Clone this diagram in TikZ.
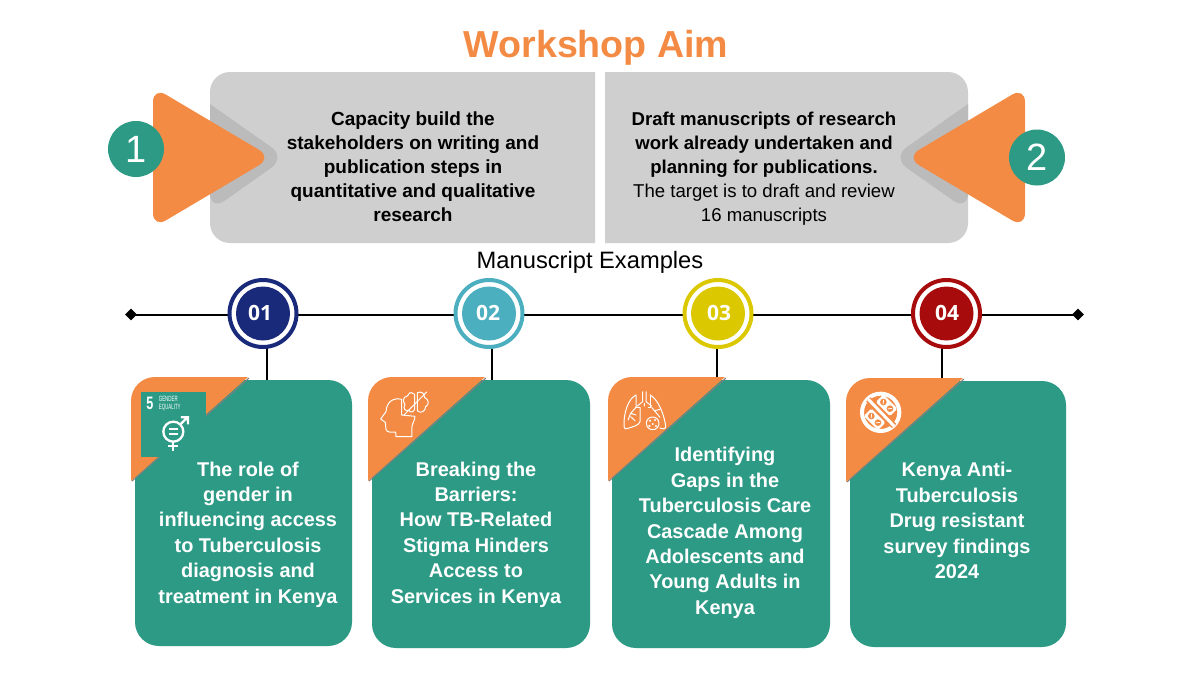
\documentclass[tikz,border=0pt]{standalone}
\usepackage{fontspec}
\setmainfont{Liberation Sans}
\newfontfamily\ringfont{Open Sans}
\usetikzlibrary{shapes.geometric}
\definecolor{orng}{HTML}{F38B45}
\definecolor{teal2}{HTML}{2C9A85}
\definecolor{boxg}{HTML}{CFCFCF}
\definecolor{shadg}{HTML}{BBBBBB}
\definecolor{edgeg}{HTML}{7F7F7F}
\definecolor{mblue}{HTML}{1A2A7A}
\definecolor{mcyan}{HTML}{4BAFC0}
\definecolor{myel}{HTML}{DCC800}
\definecolor{mred}{HTML}{A80B0B}
\tikzset{
  boxtext/.style={align=center,text=black,font=\fontsize{19}{24}\selectfont},
  cardtext/.style={align=center,text=white,font=\bfseries\fontsize{19.9}{25.4}\selectfont},
  card/.style={rectangle,rounded corners=24pt,fill=teal2,draw=none,inner sep=0pt},
  numdisc/.style={circle,fill=teal2,minimum size=56pt,inner sep=0pt,text=white,font=\fontsize{38}{38}\selectfont},
  ringout/.style={circle,draw=#1,line width=4pt,fill=white,minimum size=67pt,inner sep=0pt},
  ringin/.style={circle,fill=#1,minimum size=54pt,inner sep=0pt},
  ringlabel/.style={text=white,inner sep=0pt,font=\ringfont\bfseries\fontsize{21}{21}\selectfont},
  tline/.style={line width=2pt,draw=black},
  endmark/.style={diamond,fill=black,minimum size=12pt,inner sep=0pt},
  iconline/.style={draw=white,line width=1pt,line join=round,line cap=round},
  zoomed/.style={x=0.3333pt,y=-0.3333pt}
}
\begin{document}
\begin{tikzpicture}[x=1pt,y=-1pt]
\useasboundingbox (0,0) rectangle (1200,675);
\fill[white] (0,0) rectangle (1200,675);
\node[font=\bfseries\fontsize{37.6}{38}\selectfont,text=orng] (title) at (596,48) {Workshop Aim};
% gray boxes
\fill[boxg] (595,72) -- (595,243) [rounded corners=20pt] -- (210,243) -- (210,72) [sharp corners] -- cycle;
\fill[boxg] (605,72) -- (605,243) [rounded corners=20pt] -- (968,243) -- (968,72) [sharp corners] -- cycle;
% inner shadows
\fill[shadg] (210,104) [rounded corners=18pt] -- (286,157.5) -- (210,211) [sharp corners] -- cycle;
\fill[shadg] (968,104) [rounded corners=18pt] -- (892,157.5) -- (968,211) [sharp corners] -- cycle;
% arrows
\fill[orng,rounded corners=15pt] (153,157.5) -- (153,87) -- (272,157.5) -- (153,228) -- cycle;
\fill[orng,rounded corners=15pt] (1025,157.5) -- (1025,87) -- (906,157.5) -- (1025,228) -- cycle;
\node[numdisc] (n1) at (136,149) {1};
\node[numdisc] (n2) at (1037,157.5) {2};
\node[boxtext,font=\bfseries\fontsize{19}{24}\selectfont] (t1) at (413,167) {Capacity build the\\stakeholders on writing and\\publication steps in\\quantitative and qualitative\\research};
\node[boxtext,font=\fontsize{18.6}{24}\selectfont] (t2) at (764,169) {\textbf{Draft manuscripts of research}\\\textbf{work already undertaken and}\\\textbf{planning for publications.}\\The target is to draft and review\\16 manuscripts};
\node[font=\fontsize{23.7}{24}\selectfont] (me) at (590,262.5) {Manuscript Examples};
% timeline
\node[endmark] (dl) at (131,314.5) {};
\node[endmark] (dr) at (1078,314.5) {};
\draw[tline] (dl.center) -- (dr.center);
% cards
\node[card,minimum width=217pt,minimum height=266pt] (c1) at (243.5,513) {};
\node[card,minimum width=218pt,minimum height=268pt] (c2) at (481,514) {};
\node[card,minimum width=218pt,minimum height=268pt] (c3) at (721,514) {};
\node[card,minimum width=216pt,minimum height=266pt] (c4) at (958,514) {};
% connectors
\foreach \i/\x in {1/267,2/492,3/717,4/942}{
  \coordinate (up\i) at (\x,346);
  \coordinate (dn\i) at (\x,380);
  \draw[tline] (up\i) -- (dn\i);
}
% milestones
\foreach \i/\x/\lx/\col in {1/263/260/mblue,2/489/488/mcyan,3/718/719/myel,4/946.5/947/mred}{
  \node[ringout=\col] (ro\i) at (\x,313.5) {};
  \node[ringin=\col] (m\i) at (\x,313.5) {};
  \node[ringlabel] (lb\i) at (\lx,313) {0\i};
}
% orange corners
\foreach \x/\y in {131/377,368/377,608/377,846/378}{
  \draw[edgeg,line width=1pt] (\x+1,\y+104) -- (\x+118,\y+1);
  \fill[orng] (\x,\y+104) [rounded corners=24pt] -- (\x,\y) [sharp corners] -- (\x+117,\y) -- cycle;
}
% SDG badge
\fill[teal2] (141,392) rectangle (206,457);
\begin{scope}[shift={(120,370)},zoomed]
  \node[text=white,inner sep=0pt,font=\bfseries\fontsize{18}{18}\selectfont] (sdgn) at (90,100) {\scalebox{.7}[1]{5}};
  \node[text=white,align=left,anchor=west,inner sep=0pt,font=\fontsize{7.6}{8.4}\selectfont] (sdgt) at (116,101) {\scalebox{.58}[1]{GENDER}\\\scalebox{.58}[1]{EQUALITY}};
  \draw[white,line width=2.3pt] (160,185) circle (30);
  \draw[white,line width=2.3pt] (160,215) -- (160,243) (145,229) -- (175,229);
  \draw[white,line width=2.3pt] (180,164) -- (204,141) (183,142) -- (204,142) -- (204,163);
  \draw[white,line width=1.8pt] (146,178) -- (174,178) (146,191) -- (174,191);
\end{scope}
% head with crossed brain
\begin{scope}[shift={(360,370)},zoomed]
  \draw[iconline] (125,135) -- (125,88) .. controls (100,82) and (80,95) .. (78,125) -- (62,147) -- (76,157) -- (78,178) .. controls (80,188) and (95,187) .. (107,186) -- (108,200) -- (156,200) -- (156,170) .. controls (157,160) and (165,150) .. (165,139) -- (125,135);
  \draw[iconline] (162,72) .. controls (150,62) and (145,72) .. (142,78) .. controls (128,80) and (128,95) .. (135,103) .. controls (128,115) and (135,125) .. (147,122) .. controls (155,130) and (162,125) .. (164,118) -- (164,72);
  \draw[iconline] (172,68) .. controls (185,62) and (195,72) .. (193,82) .. controls (208,88) and (208,105) .. (197,110) .. controls (197,125) and (180,132) .. (172,122) -- (172,68);
  \draw[iconline] (132,135) -- (200,66);
\end{scope}
% lungs
\begin{scope}[shift={(600,370)},zoomed]
  \draw[iconline] (128,65) -- (128,95) -- (112,108) (138,65) -- (138,95) -- (155,108) (133,100) -- (133,108);
  \draw[iconline] (108,75) .. controls (85,85) and (70,130) .. (72,170) .. controls (72,178) and (78,178) .. (84,175) .. controls (100,170) and (118,165) .. (120,155) -- (120,112) -- (108,112) -- cycle;
  \draw[iconline] (150,75) .. controls (172,85) and (192,130) .. (197,168) .. controls (198,178) and (188,178) .. (180,174);
  \draw[iconline] (150,75) -- (150,112) -- (145,112);
  \draw[iconline] (108,112) -- (92,130) -- (84,150) (92,130) -- (108,135) (92,140) -- (105,152);
  \draw[iconline] (155,112) -- (170,130) (165,122) -- (180,118) (170,130) -- (180,142);
  \draw[iconline] (158,160) circle (19);
  \fill[white] (150,152) circle (3.5) (165,150) circle (3.5) (158,162) circle (3.5) (148,168) circle (3.5) (168,168) circle (3.5);
\end{scope}
% no pills
\begin{scope}[shift={(840,370)},zoomed]
  \draw[white,line width=4pt] (122,127) circle (56);
  \foreach \cx/\cy in {140/106,104/148}{
    \begin{scope}[shift={(\cx,\cy)},rotate=-45]
      \fill[white,rounded corners=1.5pt] (-30,-16) rectangle (30,16);
      \fill[orng] (-14,0) circle (10) (14,0) circle (10);
      \draw[white,line width=.8pt] (-18,-5) -- (-10,5) (10,5) -- (18,-5);
    \end{scope}
  }
  \draw[orng,line width=6pt] (85,88) -- (162,168);
  \draw[white,line width=3pt] (85,88) -- (162,168);
\end{scope}
% card text
\node[cardtext] (x1) at (248,534.5) {The role of\\gender in\\influencing access\\to Tuberculosis\\diagnosis and\\treatment in Kenya};
\node[cardtext] (x2) at (476,534.5) {Breaking the\\Barriers:\\How TB-Related\\Stigma Hinders\\Access to\\Services in Kenya};
\node[cardtext] (x3) at (725,533) {Identifying\\Gaps in the\\Tuberculosis Care\\Cascade Among\\Adolescents and\\Young Adults in\\Kenya};
\node[cardtext] (x4) at (957,520.5) {Kenya Anti-\\Tuberculosis\\Drug resistant\\survey findings\\2024};
\end{tikzpicture}
\end{document}
